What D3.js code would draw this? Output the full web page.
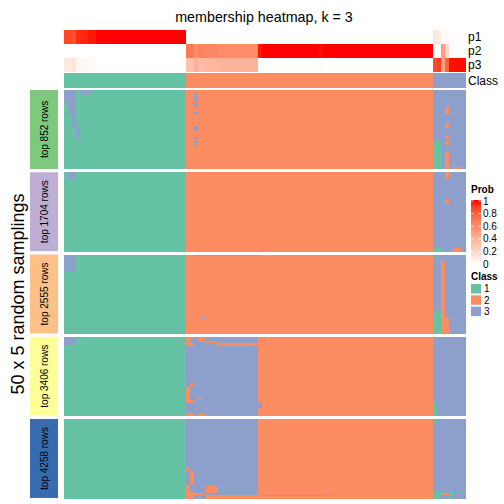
<!DOCTYPE html>
<html><head><meta charset="utf-8">
<script src="https://cdn.jsdelivr.net/npm/d3@7"></script>
<style>body{margin:0;background:#fff}svg{display:block}text{font-family:"Liberation Sans",Arial,sans-serif}</style>
</head><body><div id="chart"></div>
<script>
// ---- data ----
const title = "membership heatmap, k = 3";
const nCols = 99;
// consensus class per column as runs [class, count]
const classRuns = [[1,30],[2,61],[3,8]];
const p1 = [0.88,0.88,0.85,0.95,0.96,0.96,0.98,0.98,1,1, 1,1,1,1,1,1,1,1,1,1, 1,1,1,1,1,1,1,1,1,1,
  0,0,0,0,0,0,0,0,0,0, 0,0,0,0,0,0,0,0,0,0, 0,0,0,0,0,0,0,0,0,0, 0,0,0,0,0,0,0,0,0,0, 0,0,0,0,0,0,0,0,0,0, 0,0,0,0,0,0,0,0,0,0, 0,
  0.13,0.1,0.03,0.02,0.01,0.01,0.01,0.01];
const p2 = [0,0,0,0,0,0,0,0,0,0, 0,0,0,0,0,0,0,0,0,0, 0,0,0,0,0,0,0,0,0,0,
  0.68,0.68,0.58,0.64,0.64,0.62,0.62,0.62,0.6,0.6, 0.6,0.6,0.6,0.6,0.6,0.6,0.6,0.6,0.98,1,
  1,1,1,1,1,1,1,1,1,1, 1,1,1,0.99,1,1,1,1,1,1, 1,1,1,1,1,1,1,1,1,1, 1,1,1,1,1,1,1,1,1,1, 1,
  0,0,0.5,0.2,0,0,0,0];
const p3 = [0.12,0.12,0.15,0.05,0.04,0.04,0.02,0.02,0,0, 0,0,0,0,0,0,0,0,0,0, 0,0,0,0,0,0,0,0,0,0,
  0.32,0.32,0.42,0.36,0.36,0.38,0.38,0.38,0.4,0.4, 0.4,0.4,0.4,0.4,0.4,0.4,0.4,0.4,0.02,0,
  0,0,0,0,0,0,0,0,0,0, 0,0,0,0.01,0,0,0,0,0,0, 0,0,0,0,0,0,0,0,0,0, 0,0,0,0,0,0,0,0,0,0, 0,
  0.87,0.9,0.47,0.78,0.99,0.99,0.99,0.99];
const probRows = ["p1","p2","p3"];
const sliceLabels = ["top 852 rows","top 1704 rows","top 2555 rows","top 3406 rows","top 4258 rows"];
const sliceColors = ["#7FC97F","#BEAED4","#FDC086","#FFFF99","#386CB0"];
const nRows = 50;
// per-slice default class runs [class, count]
const sliceRuns = [
  [[1,30],[2,61],[3,8]],
  [[1,30],[2,61],[3,8]],
  [[1,30],[2,61],[3,8]],
  [[1,30],[3,18],[2,43],[3,8]],
  [[1,30],[3,18],[2,43],[3,8]]
];
// deviations: [slice, rowFrom, rowTo, colFrom, colTo, class]
const patches = [
  [0,0,7,0,2,3],[0,8,14,1,2,3],[0,14,23,2,2,3],[0,23,30,3,3,3],[0,0,1,4,6,3],[0,1,3,5,5,3],
  [0,2,2,32,32,3],[0,4,6,32,32,3],[0,8,10,32,32,3],[0,14,14,32,32,3],[0,23,25,32,32,3],[0,30,30,32,32,3],[0,32,34,32,32,3],
  [0,32,49,91,92,1],[0,11,14,94,94,2],[0,21,23,94,94,2],[0,29,30,94,94,2],[0,32,34,94,94,2],[0,39,49,94,94,2],[0,49,49,96,97,2],
  [1,0,3,1,2,3],[1,4,4,0,0,3],
  [1,48,49,91,92,1],[1,0,3,94,94,2],[1,17,19,94,94,2],[1,48,49,96,97,2],
  [2,1,10,0,2,3],[2,0,0,32,47,3],[2,38,38,34,34,3],[2,40,40,34,34,3],
  [2,0,1,91,91,1],[2,36,49,91,92,1],[2,4,49,93,93,2],[2,40,49,94,94,2],
  [3,0,4,0,2,3],[3,0,0,4,4,3],
  [3,0,1,30,31,2],[3,2,5,30,30,2],[3,4,5,31,31,2],[3,0,2,33,34,2],[3,3,3,35,37,2],[3,4,5,38,47,2],
  [3,29,31,31,31,2],[3,32,41,30,30,2],[3,40,41,31,31,2],[3,39,39,33,33,2],[3,48,49,30,30,2],[3,49,49,31,31,2],[3,49,49,33,34,2],
  [3,42,44,48,48,3],[3,42,49,91,91,1],
  [4,31,32,30,30,2],[4,33,41,31,31,2],[4,42,46,30,30,2],[4,42,46,35,37,2],[4,46,49,30,31,2],[4,47,47,32,34,2],[4,48,49,35,47,2],
  [4,48,48,48,65,3],
  [4,0,1,91,91,1],[4,46,49,91,92,1],[4,47,47,93,94,2],[4,46,49,95,95,1],[4,46,46,97,98,1]
];
const classLevels = [1,2,3];
const classColors = ["#66C2A5","#FC8D62","#8DA0CB"];
const probTicks = [0,0.2,0.4,0.6,0.8,1];

// ---- chart ----
const W = 504, H = 504;
const svg = d3.select("#chart").append("svg").attr("width", W).attr("height", H);
const x = d3.scaleBand().domain(d3.range(nCols)).range([64, 465]);
const probColor = d3.scaleLinear().domain([0,1]).range(["#ffffff","#ff0000"]).interpolate(d3.interpolateLab);
const classColor = d3.scaleOrdinal().domain(classLevels).range(classColors);

function expand(runs){ const out=[]; runs.forEach(([c,n])=>{ for(let i=0;i<n;i++) out.push(c); }); return out; }
const colClass = expand(classRuns);

svg.append("text").attr("x", 264).attr("y", 22).attr("text-anchor","middle")
  .attr("font-size", 14.3).text(title);

// top annotations
const annY = d3.scaleBand().domain(probRows).range([30, 72]);
const probData = [p1,p2,p3];
probRows.forEach((r, ri) => {
  svg.append("g").attr("shape-rendering","crispEdges").selectAll("rect").data(probData[ri]).join("rect")
    .attr("x", (d,i)=>x(i)).attr("width", x.bandwidth()+0.5)
    .attr("y", annY(r)).attr("height", annY.bandwidth())
    .attr("fill", d=>probColor(d));
  svg.append("text").attr("x", 468).attr("y", annY(r)+annY.bandwidth()/2)
    .attr("dominant-baseline","central").attr("font-size", 12).text(r);
});
svg.append("g").attr("shape-rendering","crispEdges").selectAll("rect").data(colClass).join("rect")
  .attr("x",(d,i)=>x(i)).attr("width", x.bandwidth()+0.5)
  .attr("y", 73).attr("height", 15).attr("fill", d=>classColor(d));
svg.append("text").attr("x", 468).attr("y", 80.5).attr("dominant-baseline","central")
  .attr("font-size", 12).text("Class");

// slices
const sliceY = d3.scaleBand().domain(d3.range(sliceLabels.length)).range([90, 498]).paddingInner(0.04);
sliceLabels.forEach((lab, s) => {
  const y = d3.scaleBand().domain(d3.range(nRows)).range([sliceY(s), sliceY(s)+sliceY.bandwidth()]);
  const base = expand(sliceRuns[s]);
  const grid = d3.range(nRows).map(()=>base.slice());
  patches.filter(p=>p[0]===s).forEach(([_, r0, r1, c0, c1, cl]) => {
    for (let r=r0;r<=r1;r++) for (let c=c0;c<=c1;c++) grid[r][c]=cl;
  });
  const cells = [];
  grid.forEach((row, r) => row.forEach((cl, c) => cells.push({r, c, cl})));
  svg.append("g").attr("shape-rendering","crispEdges").selectAll("rect").data(cells).join("rect")
    .attr("x", d=>x(d.c)).attr("width", x.bandwidth()+0.5)
    .attr("y", d=>y(d.r)).attr("height", y.bandwidth()+0.5)
    .attr("fill", d=>classColor(d.cl));
  // label box
  svg.append("rect").attr("x", 30).attr("width", 28)
    .attr("y", sliceY(s)).attr("height", sliceY.bandwidth()).attr("fill", sliceColors[s]);
  const cy = sliceY(s)+sliceY.bandwidth()/2;
  svg.append("text").attr("transform", `translate(44,${cy}) rotate(-90)`)
    .attr("text-anchor","middle").attr("dominant-baseline","central")
    .attr("font-size", 10).text(lab);
});
svg.append("text").attr("transform", `translate(18,294) rotate(-90)`)
  .attr("text-anchor","middle").attr("dominant-baseline","central")
  .attr("font-size", 18).text("50 x 5 random samplings");

// legend: Prob
const lg = svg.append("g");
lg.append("text").attr("x", 471).attr("y", 193).attr("font-size", 10).attr("font-weight","bold").text("Prob");
const defs = svg.append("defs");
const grad = defs.append("linearGradient").attr("id","pg").attr("x1",0).attr("x2",0).attr("y1",1).attr("y2",0);
d3.range(0,1.0001,0.1).forEach(t => grad.append("stop").attr("offset", t).attr("stop-color", probColor(t)));
const ly = d3.scaleLinear().domain([0,1]).range([264, 201]);
lg.append("rect").attr("x", 471).attr("y", ly(1)-1).attr("width", 10).attr("height", ly(0)-ly(1)+2).attr("fill","url(#pg)");
probTicks.forEach(t => {
  lg.append("line").attr("x1",471).attr("x2",473.5).attr("y1",ly(t)).attr("y2",ly(t)).attr("stroke","#fff").attr("stroke-width",0.8);
  lg.append("line").attr("x1",478.5).attr("x2",481).attr("y1",ly(t)).attr("y2",ly(t)).attr("stroke","#fff").attr("stroke-width",0.8);
  lg.append("text").attr("x", 483).attr("y", ly(t)).attr("dominant-baseline","central").attr("font-size", 10).text(t===0?"0":(t===1?"1":t.toFixed(1)));
});
// legend: Class
lg.append("text").attr("x", 471).attr("y", 280).attr("font-size", 10).attr("font-weight","bold").text("Class");
classLevels.forEach((c, i) => {
  lg.append("rect").attr("x", 471).attr("y", 284 + i*11.3).attr("width", 10).attr("height", 9.5).attr("fill", classColor(c));
  lg.append("text").attr("x", 484).attr("y", 284 + i*11.3 + 4.8).attr("dominant-baseline","central").attr("font-size", 10).text(c);
});
</script></body></html>
